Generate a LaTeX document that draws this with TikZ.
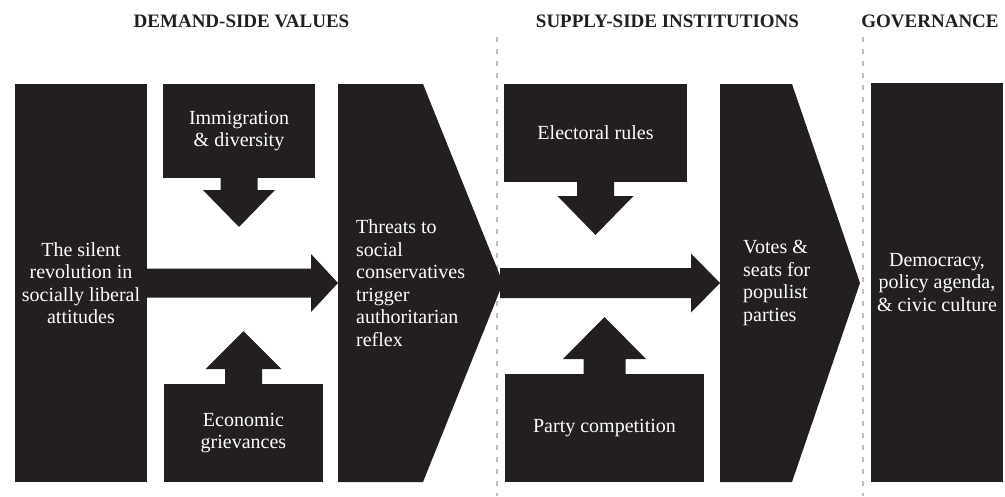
\documentclass[tikz,border=0pt]{standalone}
\usepackage{fontspec}
\setmainfont{Liberation Serif}
\usetikzlibrary{calc}
\definecolor{boxc}{HTML}{231F20}
\definecolor{sepc}{HTML}{BEBEBE}
\newcommand{\blkarrow}[5]{%
  \path (#2) coordinate (bA) ($(#2)!#5!(#1)$) coordinate (bB);
  \fill[boxc] ($(#1)!#3!90:(bA)$) -- ($(bB)!#3!90:(bA)$) -- ($(bB)!#4!90:(bA)$)
    -- (bA) -- ($(bB)!#4!-90:(bA)$) -- ($(bB)!#3!-90:(bA)$) -- ($(#1)!#3!-90:(bA)$) -- cycle;
}
\tikzset{
  blk/.style={fill=boxc, text=white, inner sep=0pt, align=center,
    font=\fontsize{20}{22.5}\selectfont},
  blktext/.style={text=white, inner sep=0pt, align=left,
    font=\fontsize{20}{22.5}\selectfont},
  hdr/.style={text=boxc, inner sep=0pt, anchor=base,
    font=\fontsize{19}{22}\selectfont\bfseries},
  sepline/.style={draw=sepc, line width=2.6pt, dash pattern=on 5pt off 7pt}
}
\begin{document}
\begin{tikzpicture}[x=1pt,y=-1pt]
\useasboundingbox[fill=white] (0,0) rectangle (1005,496);
% headers
\node[hdr] (hDem) at (241.5,27) {DEMAND-SIDE VALUES};
\node[hdr] (hSup) at (667.5,27) {SUPPLY-SIDE INSTITUTIONS};
\node[hdr] (hGov) at (930,27) {GOVERNANCE};
% separators
\coordinate (s1t) at (497,37); \coordinate (s1b) at (497,496);
\coordinate (s2t) at (863,37); \coordinate (s2b) at (863,496);
\draw[sepline] (s1t) -- (s1b);
\draw[sepline] (s2t) -- (s2b);
% boxes
\node[blk, minimum width=132pt, minimum height=398pt] (left) at (81,283)
  {The silent\\revolution in\\socially liberal\\attitudes};
\node[blk, minimum width=152pt, minimum height=94pt] (imm) at (239,131)
  {Immigration\\\& diversity};
\node[blk, minimum width=159pt, minimum height=98pt] (eco) at (243.5,433)
  {Economic\\grievances};
\node[blk, minimum width=183pt, minimum height=98pt] (elec) at (595.5,133)
  {Electoral rules};
\node[blk, minimum width=199pt, minimum height=108pt] (party) at (604.5,428)
  {Party competition};
\node[blk, minimum width=132pt, minimum height=399pt] (gov) at (937,282.5)
  {Democracy,\\policy agenda,\\\& civic culture};
% pentagons
\fill[boxc] (338,84) -- (423,84) -- (503,283) -- (423,482) -- (338,482) -- cycle;
\coordinate (thrW) at (338,283); \coordinate (thrE) at (500,283);
\node[blktext, anchor=west] (threats) at (356,283)
  {Threats to\\social\\conservatives\\trigger\\authoritarian\\reflex};
\fill[boxc] (720,84) -- (792,84) -- (860,283) -- (792,482) -- (720,482) -- cycle;
\coordinate (votW) at (720,283);
\node[blktext, anchor=west] (votes) at (743,283)
  {Votes \&\\seats for\\populist\\parties};
% arrows
\coordinate (immT) at (239,227);
\coordinate (ecoT) at (243.5,331);
\coordinate (elecT) at (595.5,235);
\coordinate (partyT) at (604.5,317);
\blkarrow{left.east}{thrW}{14.5pt}{29pt}{27pt}
\blkarrow{thrE}{votW}{15pt}{29.5pt}{29pt}
\blkarrow{imm.south}{immT}{18.5pt}{36pt}{37pt}
\blkarrow{eco.north}{ecoT}{18.5pt}{38pt}{38pt}
\blkarrow{elec.south}{elecT}{18.5pt}{38pt}{39pt}
\blkarrow{party.north}{partyT}{21pt}{41.5pt}{42pt}
\end{tikzpicture}
\end{document}
